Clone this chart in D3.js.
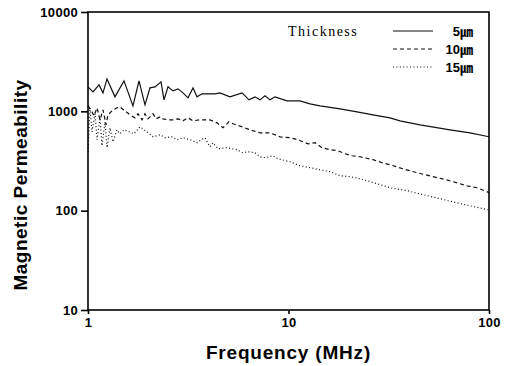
<!DOCTYPE html>
<html>
<head>
<meta charset="utf-8">
<script src="https://cdn.jsdelivr.net/npm/d3@7"></script>
<style>
  body { margin: 0; background: #fff; }
  svg { display: block; }
</style>
</head>
<body>
<svg id="chart"></svg>
<script>
// frequency (MHz) / permeability pairs
const freq5 = [1.00, 1.059, 1.135, 1.188, 1.244, 1.363, 1.512, 1.676, 1.796, 1.924, 2.038, 2.159, 2.313, 2.394, 2.506, 2.655, 2.811, 2.977, 3.153, 3.340, 3.497, 3.704, 4.298, 4.554, 5.108, 5.864, 6.353, 6.806, 7.208, 7.635, 8.086, 8.565, 9.829, 11.41, 12.80, 14.36, 18.06, 21.96, 26.39, 32.08, 35.98, 45.28, 63.90, 80.40, 100];
const mu5   = [1763, 1570, 1847, 1535, 2121, 1399, 2025, 1136, 2025, 1163, 1723, 1763, 1979, 1305, 1763, 1607, 1683, 1535, 1367, 1723, 1399, 1500, 1500, 1535, 1399, 1535, 1305, 1399, 1305, 1432, 1305, 1399, 1275, 1275, 1190, 1136, 1059, 989, 922, 860, 803, 732, 652, 608, 555];

const freq10 = [1.00, 1.035, 1.071, 1.109, 1.148, 1.188, 1.230, 1.258, 1.317, 1.395, 1.444, 1.529, 1.620, 1.716, 1.776, 1.859, 1.924, 1.992, 2.110, 2.184, 2.286, 2.366, 2.506, 2.655, 2.811, 2.977, 3.153, 3.340, 3.620, 4.059, 4.399, 4.713, 5.049, 5.287, 5.864, 6.427, 7.208, 8.086, 9.071, 10.17, 11.15, 12.51, 13.56, 14.69, 16.11, 17.66, 19.13, 20.74, 22.73, 26.39, 29.27, 32.08, 37.25, 43.75, 52.57, 63.90, 77.68, 87.12, 100];
const mu10   = [1136, 1035, 901, 1084, 821, 1035, 732, 922, 1012, 1084, 1110, 1012, 922, 860, 944, 821, 944, 840, 944, 840, 880, 840, 821, 821, 840, 803, 860, 803, 821, 821, 766, 683, 784, 749, 699, 652, 608, 608, 554, 542, 517, 471, 483, 430, 411, 401, 374, 357, 349, 326, 304, 290, 264, 241, 220, 200, 178, 170, 152];

const freq15 = [1.00, 1.023, 1.047, 1.084, 1.109, 1.148, 1.174, 1.216, 1.244, 1.287, 1.332, 1.395, 1.444, 1.512, 1.602, 1.696, 1.817, 1.969, 2.110, 2.286, 2.421, 2.624, 2.779, 2.977, 3.227, 3.497, 3.662, 3.832, 4.059, 4.202, 4.450, 4.935, 5.536, 5.864, 6.281, 6.806, 7.208, 7.635, 8.370, 8.866, 10.17, 11.41, 12.80, 14.36, 16.11, 18.06, 20.27, 22.73, 25.50, 28.61, 32.08, 38.99, 46.87, 56.96, 69.25, 83.22, 100];
const mu15   = [392, 1084, 622, 944, 517, 860, 450, 784, 430, 683, 494, 652, 594, 652, 622, 594, 699, 622, 554, 581, 542, 554, 517, 542, 517, 483, 517, 542, 440, 483, 420, 430, 411, 383, 392, 383, 349, 341, 357, 333, 311, 283, 271, 258, 247, 225, 220, 210, 196, 183, 170, 159, 145, 132, 120, 110, 102];

const seriesNames = ['5㎛', '10㎛', '15㎛'];
const seriesDash = ['none', '4,3', '1,2.4'];
const xTicks = [1, 10, 100];
const yTicks = [10, 100, 1000, 10000];

const series = [
  {name: seriesNames[0], dash: seriesDash[0], values: freq5.map((f, i) => ({f, m: mu5[i]}))},
  {name: seriesNames[1], dash: seriesDash[1], values: freq10.map((f, i) => ({f, m: mu10[i]}))},
  {name: seriesNames[2], dash: seriesDash[2], values: freq15.map((f, i) => ({f, m: mu15[i]}))}
];

const width = 510, height = 366;
const margin = {top: 12, right: 21, bottom: 56, left: 88};
const iw = width - margin.left - margin.right;
const ih = height - margin.top - margin.bottom;

const svg = d3.select('#chart')
  .attr('width', width)
  .attr('height', height);

const chart = svg.append('g')
  .attr('transform', `translate(${margin.left}, ${margin.top})`);

const xscale = d3.scaleLog().domain([1, 100]).range([0, iw]);
const yscale = d3.scaleLog().domain([10, 10000]).range([ih, 0]);

const line = d3.line()
  .x(d => xscale(d.f))
  .y(d => yscale(d.m));

chart.selectAll('.series')
  .data(series)
  .join('path')
  .attr('class', 'series')
  .attr('d', d => line(d.values))
  .attr('fill', 'none')
  .attr('stroke', '#111')
  .attr('stroke-width', 1.2)
  .attr('stroke-dasharray', d => d.dash);

// frame
chart.append('rect')
  .attr('width', iw)
  .attr('height', ih)
  .attr('fill', 'none')
  .attr('stroke', '#000')
  .attr('stroke-width', 1.6);

const tickFont = '"Liberation Sans", Arial, sans-serif';

const yaxis = d3.axisLeft(yscale)
  .tickValues(yTicks)
  .tickFormat(d3.format('d'))
  .tickSize(7)
  .tickSizeOuter(0);

const yg = chart.append('g').call(yaxis);
yg.select('.domain').remove();
yg.selectAll('line').attr('stroke', '#000').attr('stroke-width', 1.6);
yg.selectAll('text')
  .attr('x', -10)
  .style('font-family', tickFont)
  .style('font-weight', 'bold')
  .style('font-size', '13px')
  .style('letter-spacing', '0.3px')
  .attr('fill', '#000');

const xaxis = d3.axisBottom(xscale)
  .tickValues(xTicks)
  .tickFormat(d3.format('d'))
  .tickSize(4)
  .tickSizeOuter(0);

const xg = chart.append('g')
  .attr('transform', `translate(0, ${ih})`)
  .call(xaxis);
xg.select('.domain').remove();
xg.selectAll('line').attr('stroke', '#000').attr('stroke-width', 1.6);
xg.selectAll('text')
  .attr('y', 8)
  .style('font-family', tickFont)
  .style('font-weight', 'bold')
  .style('font-size', '13px')
  .style('letter-spacing', '0.3px')
  .attr('fill', '#000');

// axis titles
svg.append('text')
  .attr('x', margin.left + iw / 2)
  .attr('y', 359)
  .attr('text-anchor', 'middle')
  .style('font-family', tickFont)
  .style('font-weight', 'bold')
  .style('font-size', '19px')
  .style('letter-spacing', '0.8px')
  .text('Frequency (MHz)');

svg.append('text')
  .attr('transform', 'rotate(-90)')
  .attr('x', -185)
  .attr('y', 27)
  .attr('text-anchor', 'middle')
  .style('font-family', tickFont)
  .style('font-weight', 'bold')
  .style('font-size', '19px')
  .style('letter-spacing', '0.5px')
  .text('Magnetic Permeability');

// legend
const legend = svg.append('g');
legend.append('text')
  .attr('x', 288)
  .attr('y', 36)
  .style('font-family', '"Liberation Serif", serif')
  .style('font-size', '14px')
  .style('letter-spacing', '1.5px')
  .text('Thickness');

const rows = legend.selectAll('.row')
  .data(series)
  .join('g')
  .attr('class', 'row')
  .attr('transform', (d, i) => `translate(0, ${31 + i * 18})`);

rows.append('line')
  .attr('x1', 393)
  .attr('x2', 433)
  .attr('stroke', '#111')
  .attr('stroke-width', 1.2)
  .attr('stroke-dasharray', d => d.dash);

rows.append('text')
  .attr('x', 473)
  .attr('y', 5)
  .attr('text-anchor', 'end')
  .style('font-family', '"Liberation Sans", "Noto Sans CJK KR", sans-serif')
  .style('font-weight', 'bold')
  .style('font-size', '13px')
  .text(d => d.name);
</script>
</body>
</html>
